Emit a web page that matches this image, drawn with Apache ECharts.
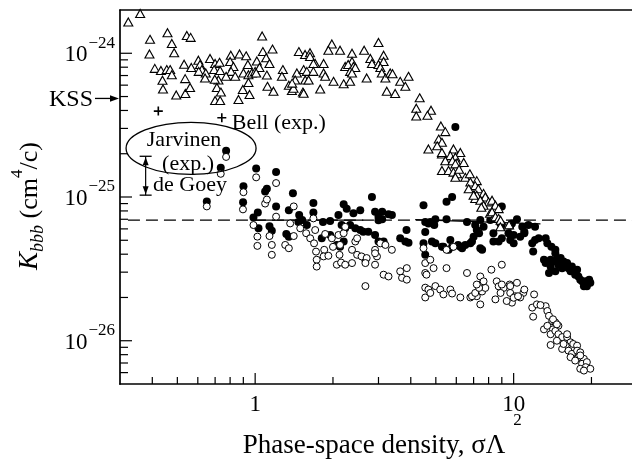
<!DOCTYPE html>
<html><head><meta charset="utf-8">
<script src="https://cdn.jsdelivr.net/npm/echarts@6/dist/echarts.min.js"></script>
<style>html,body{margin:0;padding:0;background:#fff;}#chart{width:632px;height:460px;}</style>
</head><body><div id="chart"></div>
<script>
// K_bbb values below are written in units of 1e-26 cm^4/c
const K_UNIT = 1e-26;
const xMin = 0.3, xMax = 28.7;
const yMin = 5e-27, yMax = 2e-24;

// open triangles [sigma*Lambda^2, K (1e-26)]
const triangles = [
[0.323,165],[0.359,189],[0.392,125],[0.458,139],[0.476,117],[0.544,133],[0.563,129],[0.390,99],[0.486,101],
[0.409,78.5],[0.432,76],[0.455,77],[0.469,77],[0.438,65],[0.440,56.5],[0.476,71],[0.495,51.3],[0.537,52.5],
[0.536,66.6],[0.560,57.8],[0.531,84],[0.566,79.6],[0.603,89.5],[0.612,83.6],[0.622,77],[0.605,74.8],[0.644,73],
[0.640,67.3],[0.669,92],[0.700,85],[0.728,86.5],[0.694,77],[0.732,76],[0.721,65.2],[0.698,66],[0.711,57.8],
[0.737,53.7],[0.700,46.9],[0.732,46.9],[0.805,97],[0.870,99],[0.923,96],[0.800,87.7],[0.824,81],[0.807,74.8],
[0.772,69.1],[0.837,69.1],[0.937,83.6],[0.901,73],[0.942,71],[0.971,73],[1.0,74.8],[0.942,62.6],[0.896,56],
[0.951,51.7],[0.862,47.7],[1.064,132],[1.071,102.7],[1.167,107],[1.103,93],[1.015,88.5],[1.136,85],[1.039,79.6],
[1.009,73],[1.110,70.5],[1.116,58.9],[1.177,54.4],[1.280,77],[1.269,69.1],[1.350,60],[1.387,55],[1.450,73],
[1.428,65.2],[1.476,102.7],[1.707,85],[1.530,53.7],[1.407,57],
[1.56,98],[1.63,101],[1.63,95],[1.39,62],[1.54,77],[1.585,74.8],[1.562,65.2],[1.61,65.2],[1.54,52.7],[1.68,85],[1.68,74.8],
[1.84,85],[1.84,73],[1.866,69.1],[1.785,56.5],[1.98,116],[1.92,105],[2.13,105],[2.01,63.8],[2.20,61.3],[2.33,63.8],
[2.37,100],[2.37,87.7],[2.23,81],[2.29,83.6],[2.40,81],[2.33,74.8],[2.44,79.6],[2.37,73],[2.70,67.3],
[2.64,105],[3.0,119],[2.79,92],[2.83,85],[3.0,83.6],[3.14,97],[3.14,87.7],[3.05,79.6],
[3.09,73],[3.19,67.3],[3.33,73],[3.40,72],[3.23,54.4],[3.48,52.5],[3.64,63.8],[3.81,58.9],[3.92,69.1],
[4.33,49],[4.20,41.5],[4.20,36.6],[4.79,40.2],[4.64,37],[5.23,31.2],
[5.44,28.5],[5.13,25.3],[5.28,24],[5.06,22.7],[4.68,21.6],[5.85,21.6],[6.22,20.4],[5.28,19.9],[5.69,19.4],[5.95,18.9],
[5.44,17.9],[5.80,17.9],[6.04,17.3],[6.41,17.4],[5.28,15.3],[5.60,15.3],[5.85,14.9],[6.04,14.5],[6.50,13.7],[6.77,14.5],
[7.20,13.0],[6.80,12.7],[7.10,12.0],[6.70,11.4],[7.30,11.4],[7.65,10.6],[7.20,10.3],[7.77,10.0],[7.10,9.75],[7.43,9.5],
[8.0,9.25],[8.25,9.5],[7.65,8.77],[8.5,8.77],[8.1,7.7],[8.75,8.3],[8.4,7.3],[7.0,10.3],[7.5,8.5],[8.25,7.9],[8.5,7.3],
[8.75,7.1],[8.9,6.9],[5.28,20.4],[5.95,17.0],[6.15,15.6],[5.95,13.7],[8.88,6.2],[9.6,6.4]
];

// filled circles
const filledCircles = [
[0.65,9.3],[0.772,21.0],[0.736,16.0],[0.901,11.9],[0.898,9.2],[1.009,15.8],[1.205,14.9],[1.093,10.9],[1.11,11.4],
[1.205,8.6],[0.985,7.2],[1.024,7.8],[1.03,6.06],[1.136,6.27],[1.16,5.82],[1.32,5.53],[1.35,5.3],[1.35,8.1],[1.40,10.6],
[1.48,7.48],[1.52,6.91],[1.585,6.38],[1.47,6.7],[1.68,9.1],[1.68,7.8],[1.83,6.7],[1.95,6.8],[1.81,5.16],
[2.1,7.48],[2.2,8.9],[2.26,8.3],[2.4,7.7],[2.55,8.1],[2.83,10.0],[2.91,7.9],[3.0,6.9],[3.1,7.9],[3.28,7.6],[3.38,7.5],
[3.0,7.3],[3.1,7.0],
[2.33,6.38],[2.44,6.06],[2.55,5.89],[2.62,5.74],[2.74,5.74],[2.23,6.06],[2.16,6.38],[2.07,4.64],[2.13,4.5],[2.2,4.9],
[2.91,5.44],[3.0,4.9],[3.14,4.9],[3.85,5.89],[3.64,5.16],[3.81,4.9],[3.92,4.8],[2.67,3.66],[1.95,5.44],
[4.48,8.77],[4.55,6.7],[4.68,6.55],[4.55,5.7],[4.76,6.7],[4.98,7.0],[4.93,6.38],[5.5,9.25],[5.78,10.0],[5.5,7.0],
[4.48,4.76],[4.55,3.96],[4.83,4.9],[4.98,4.76],[5.35,4.5],[5.6,4.29],[5.69,5.03],[6.1,4.64],[6.5,4.64],
[5.95,30.7],
[9.0,8.6],[6.6,6.7],[7.43,6.91],[8.12,6.91],[8.88,6.55],[9.85,6.55],[10.3,7.0],[10.8,6.2],[11.0,5.74],[11.4,6.38],[12.1,6.2],
[9.0,6.4],[9.7,6.3],[7.65,6.2],
[7.1,6.38],[7.2,5.89],[7.35,5.6],[7.0,5.3],[6.9,4.9],[6.8,4.76],[7.43,4.4],[7.55,4.29],[8.35,4.9],[8.75,4.9],[8.35,5.6],
[9.0,5.16],[9.55,5.6],[9.7,5.03],[10.0,4.76],[10.0,5.44],[10.6,5.3],[11.0,5.6],
[5.28,4.5],[5.78,4.5],[6.22,4.5],[6.32,4.4],
[11.8,4.76],[12.1,5.03],[12.5,5.16],[11.9,4.17],[13.3,5.16],[13.5,4.76],[14.0,4.5],[14.5,4.29],[14.5,4.06],[13.1,3.66],
[13.3,3.47],[13.9,3.66],[13.9,3.28],[14.3,3.56],[14.7,3.66],[14.9,3.38],[15.2,3.47],[15.4,3.2],[15.6,3.56],[15.9,3.28],
[16.1,3.47],[16.3,3.2],[16.6,3.04],[16.8,3.28],[17.0,3.04],[17.3,2.88],[17.6,3.12],[17.8,2.8],[18.1,2.66],[18.4,2.59],
[19.0,2.59],[19.6,2.66],[19.8,2.53],[18.7,2.39],[19.2,2.39],[13.7,2.96],[15.2,3.76],[14.5,3.04]
];

// open circles
const openCircles = [
[0.65,8.6],[0.772,19.0],[0.736,14.5],[0.901,10.8],[0.897,8.2],[1.009,13.7],[1.205,12.5],[1.093,9.0],[1.11,9.6],[1.205,7.3],
[0.985,6.38],[1.02,5.3],[1.02,4.57],[1.136,5.35],[1.16,4.64],[1.16,3.96],[1.307,4.64],[1.35,4.4],[1.366,6.55],[1.41,8.6],
[1.494,6.06],[1.575,5.6],[1.633,5.16],[1.41,5.35],[1.68,7.1],[1.707,5.89],[1.69,4.76],[1.72,4.17],[1.73,3.66],[1.73,3.28],
[1.866,5.53],[1.98,5.16],[1.85,4.29],[1.84,3.86],[1.92,3.9],
[2.1,5.44],[2.2,5.6],[2.23,6.2],[2.0,4.5],[2.13,4.64],[2.12,3.96],[2.07,3.38],[2.15,3.5],[2.37,4.29],[2.44,4.9],[2.48,5.16],
[2.37,3.47],[2.48,3.96],[2.58,3.86],[2.7,3.76],[2.91,4.29],[2.96,3.86],[2.91,3.38],[3.05,4.76],[3.19,4.64],[3.38,4.29],
[3.14,2.88],[3.28,2.8],[3.64,3.04],[3.86,3.2],[3.7,2.74],[3.86,2.66],[2.67,2.4],[2.91,4.06],[2.67,3.47],[2.23,3.38],
[4.55,3.47],[4.55,2.96],[4.9,3.2],[5.5,3.2],[4.55,2.34],[4.68,2.27],[4.98,2.4],[5.2,2.27],[4.55,2.0],[5.35,2.1],[5.69,2.27],
[5.78,2.13],[6.22,2.0],[6.6,2.96],[6.8,2.0],[7.2,2.04],[7.43,2.8],[7.43,2.46],[7.55,2.2],[7.43,1.79],[7.65,2.59],[7.77,2.33],
[8.2,3.12],[8.6,2.59],[8.75,2.39],[9.0,3.38],[9.15,2.33],[9.65,2.46],[9.7,2.15],[9.85,1.84],[10.3,2.53],[10.15,2.04],
[10.9,2.15],[11.0,2.27],[10.6,2.0],
[4.48,4.4],[4.76,3.66],[4.6,2.88],[4.76,2.15],[5.5,4.29],[5.85,4.5],[12.0,2.1],
[6.9,2.04],[7.1,2.15],[7.35,2.33],[7.2,2.46],[9.0,2.46],[9.7,2.4],[8.5,1.94],[8.9,2.15],[9.4,1.89],[10.0,1.99],[10.4,2.04],
[11.8,1.7],[12.3,1.79],[11.9,1.47],[13.3,1.74],[13.5,1.61],[13.7,1.49],[14.1,1.37],[14.5,1.34],[14.9,1.27],[13.1,1.2],
[13.5,1.27],[14.2,1.2],[13.9,1.11],[14.5,1.17],[14.9,1.11],[15.4,1.06],[14.7,1.0],[13.9,0.934],[16.1,1.06],[16.6,0.975],
[15.9,0.924],[17.0,0.949],[17.6,0.924],[15.4,0.877],[16.3,0.853],[16.8,0.81],[16.6,0.768],[17.6,0.853],[17.8,0.768],
[18.7,0.748],[17.3,0.728],[18.4,0.691],[19.2,0.71],[19.0,0.655],[19.8,0.638],[18.1,0.638],
[12.7,1.77],[14.2,1.41],[14.7,1.3],[15.6,0.949],[16.1,1.11],[18.1,0.83],[18.1,0.79],[18.7,0.62]
];

// "Bell (exp.)" crosses
const bellPoints = [[0.422,39.6],[0.743,35.6]];
// de Goey range [x, low, high]
const deGoeyRange = [0.377, 10.3, 19.2];
// KSS bound
const kssLevel = 48.5;
// horizontal dashed line and solid segments
const dashedLevel = 6.9;
const dashedStart = 0.322;
const solidSegA = [[0.974,6.9],[2.62,6.9]];
const solidSegB = [[4.16,6.95],[12.7,6.5]];
// Jarvinen ellipse centre
const ellipseCenter = [0.565, 21.8];

const xMajorTicks = [1, 10];
const xMinorTicks = [0.4,0.5,0.6,0.7,0.8,0.9,2,3,4,5,6,7,8,9,20];
const yMajorTicks = [1e-26, 1e-25, 1e-24];
const yMinorTicks = [6e-27,7e-27,8e-27,9e-27,2e-26,3e-26,4e-26,5e-26,6e-26,7e-26,8e-26,9e-26,
                     2e-25,3e-25,4e-25,5e-25,6e-25,7e-25,8e-25,9e-25];

const FONT = '"Liberation Serif","Times New Roman",Times,serif';
const mctx = document.createElement('canvas').getContext('2d');
function tw(s, size, style) { mctx.font = (style ? style + ' ' : '') + size + 'px ' + FONT; return mctx.measureText(s).width; }
function T(s, x, y, size, align, style) {
  const a = align || 'left';
  return {type:'text', style:{text:s, x:x, y:y, fill:'#000',
    font:(style ? style + ' ' : '') + size + 'px ' + FONT,
    align:a, verticalAlign:'middle', textAlign:a, textVerticalAlign:'middle'}};
}
function L(x1,y1,x2,y2,w){ return {type:'line', shape:{x1:x1,y1:y1,x2:x2,y2:y2}, style:{stroke:'#000', lineWidth:w||1.2}}; }
const toPt = p => [p[0], p[1]*K_UNIT];

function renderDecor(params, api) {
  const ch = [];
  const org = api.coord([xMin, yMin]);
  const left = org[0], bottom = org[1];
  const right = api.coord([xMax, yMin])[0];
  const top = api.coord([xMin, yMax])[1];
  xMinorTicks.forEach(v => { const px = api.coord([v, yMin])[0]; ch.push(L(px, bottom, px, bottom-7)); });
  xMajorTicks.forEach(v => {
    const px = api.coord([v, yMin])[0];
    ch.push(L(px, bottom, px, bottom-11));
    ch.push(T(String(v), px, bottom+21, 23, 'center'));
  });
  yMinorTicks.forEach(v => { const py = api.coord([xMin, v])[1]; ch.push(L(left, py, left+8, py)); });
  yMajorTicks.forEach(v => {
    const py = api.coord([xMin, v])[1];
    ch.push(L(left, py, left+12, py));
    const e = Math.round(Math.log10(v));
    const sup = '\u2212' + Math.abs(e);
    const ws = tw(sup, 17);
    const sx = left - 5 - ws;
    ch.push(T('10', sx - 1, py + 2, 23, 'right'));
    ch.push(T(sup, sx, py - 10, 17, 'left'));
  });
  // x axis title
  const cx = (left + right) / 2;
  const base = 'Phase-space density, \u03c3\u039b';
  const wb = tw(base, 27);
  ch.push(T(base, cx - wb/2 - 2, bottom + 62, 27, 'left'));
  ch.push(T('2', cx + wb/2 + 6, bottom + 37, 17, 'left'));
  // y axis title (rotated)
  const parts = [
    {s:'K', size:27, style:'italic', dy:0},
    {s:'bbb', size:18, style:'italic', dy:8},
    {s:' (cm', size:26, dy:0},
    {s:'4', size:17, dy:-12},
    {s:'/c)', size:26, dy:0}
  ];
  let total = 0; parts.forEach(p => { p.w = tw(p.s, p.size, p.style); total += p.w; });
  let pos = -total/2; const kids = [];
  parts.forEach(p => { kids.push(T(p.s, pos, p.dy, p.size, 'left', p.style)); pos += p.w; });
  ch.push({type:'group', x:30, y:(top+bottom)/2 + 9, rotation:Math.PI/2, children:kids});
  // KSS arrow
  const ky = api.coord([xMin, kssLevel*K_UNIT])[1];
  ch.push(L(left-25, ky, left-7, ky, 1.3));
  ch.push({type:'polygon', shape:{points:[[left-1,ky],[left-10,ky-3.2],[left-10,ky+3.2]]}, style:{fill:'#000'}});
  ch.push(T('KSS', left-27, ky+1, 24, 'right'));
  // Jarvinen ellipse + labels
  const ec = api.coord(toPt(ellipseCenter));
  ch.push({type:'ellipse', shape:{cx:ec[0], cy:ec[1], rx:65, ry:26}, style:{fill:'none', stroke:'#000', lineWidth:1.3}});
  ch.push(T('Jarvinen', ec[0]-7, ec[1]-8.5, 22, 'center'));
  ch.push(T('(exp.)', ec[0]-3, ec[1]+16, 22, 'center'));
  ch.push(T('de Goey', ec[0]-1, ec[1]+37, 22, 'center'));
  // Bell label
  const bp = api.coord(toPt(bellPoints[1]));
  ch.push(T('Bell (exp.)', bp[0]+10, bp[1]+5, 22, 'left'));
  return {type:'group', children:ch};
}

function renderRange(params, api) {
  const t = api.coord([api.value(0), api.value(2)]);
  const b = api.coord([api.value(0), api.value(1)]);
  const x = t[0];
  return {type:'group', children:[
    L(x, t[1], x, b[1], 1.2),
    L(x-6, t[1], x+6, t[1], 1.3),
    L(x-6, b[1], x+6, b[1], 1.3),
    {type:'polygon', shape:{points:[[x, t[1]+1],[x-3, t[1]+9],[x+3, t[1]+9]]}, style:{fill:'#000'}},
    {type:'polygon', shape:{points:[[x, b[1]-1],[x-3, b[1]-9],[x+3, b[1]-9]]}, style:{fill:'#000'}}
  ]};
}

const chart = echarts.init(document.getElementById('chart'), null, {renderer:'canvas'});
const axisCommon = {
  type:'log', logBase:10,
  axisTick:{show:false}, axisLabel:{show:false}, splitLine:{show:false}, minorTick:{show:false}
};
chart.setOption({
  animation:false,
  backgroundColor:'#fff',
  grid:{left:120, top:10, right:0, bottom:76, containLabel:false},
  xAxis:[
    Object.assign({}, axisCommon, {min:xMin, max:xMax, position:'bottom',
      axisLine:{show:true, onZero:false, lineStyle:{color:'#000', width:1.7}}}),
    Object.assign({}, axisCommon, {min:xMin, max:xMax, position:'top',
      axisLine:{show:true, onZero:false, lineStyle:{color:'#000', width:1.7}}})
  ],
  yAxis:Object.assign({}, axisCommon, {min:yMin, max:yMax, position:'left',
      axisLine:{show:true, onZero:false, lineStyle:{color:'#000', width:1.7}}}),
  series:[
    {type:'line', silent:true, data:[[dashedStart, dashedLevel*K_UNIT],[xMax, dashedLevel*K_UNIT]], showSymbol:false,
      lineStyle:{color:'#000', width:1.3, type:[12,6]}, z:2},
    {type:'line', silent:true, data:solidSegA.map(toPt), showSymbol:false, lineStyle:{color:'#000', width:1.3}, z:2},
    {type:'line', silent:true, data:solidSegB.map(toPt), showSymbol:false, lineStyle:{color:'#000', width:1.3}, z:2},
    {type:'scatter', silent:true, data:filledCircles.map(toPt), symbol:'circle', symbolSize:8,
      itemStyle:{color:'#000', opacity:1}, z:3},
    {type:'scatter', silent:true, data:openCircles.map(toPt), symbol:'circle', symbolSize:7,
      itemStyle:{color:'#fff', borderColor:'#000', borderWidth:1, opacity:1}, z:4},
    {type:'scatter', silent:true, data:triangles.map(toPt), symbol:'triangle', symbolSize:[9,8],
      itemStyle:{color:'#fff', borderColor:'#000', borderWidth:1.1, opacity:1}, z:5},
    {type:'scatter', silent:true, data:bellPoints.map(toPt),
      symbol:'path://M4.1,0H5.9V4.1H10V5.9H5.9V10H4.1V5.9H0V4.1H4.1Z', symbolSize:9,
      itemStyle:{color:'#000', opacity:1}, z:6},
    {type:'custom', silent:true, coordinateSystem:'cartesian2d', clip:false,
      data:[[deGoeyRange[0], deGoeyRange[1]*K_UNIT, deGoeyRange[2]*K_UNIT]], renderItem:renderRange, z:6},
    {type:'custom', silent:true, coordinateSystem:'cartesian2d', clip:false,
      data:[[1, 1e-25]], renderItem:renderDecor, z:10}
  ]
});
</script></body></html>
